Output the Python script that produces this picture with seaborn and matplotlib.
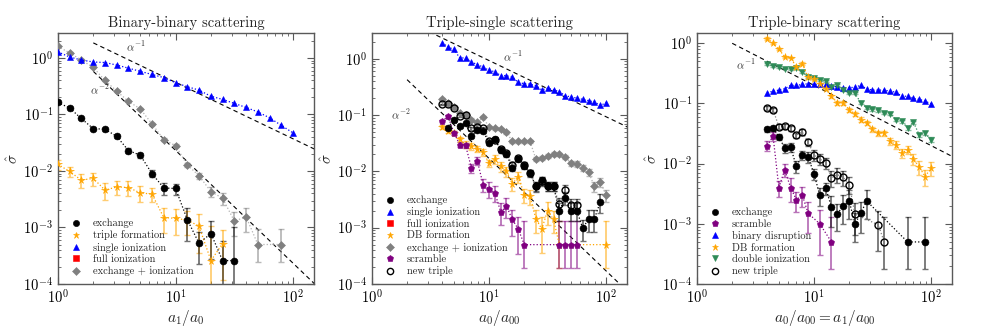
import numpy as np
import matplotlib
matplotlib.use("Agg")
import matplotlib.pyplot as plt
from matplotlib.lines import Line2D
import seaborn as sns

nan = np.nan

# ---- data -------------------------------------------------------------
# binary-binary: a1/a0
x_bb = [1.0, 1.26, 1.58, 2.0, 2.51, 3.16, 3.98, 5.01, 6.31, 7.94, 10.0,
        12.6, 15.8, 20.0, 25.1, 31.6, 39.8, 50.1, 63.1, 79.4, 100.0]
bb_exchange = [0.163, 0.13, 0.085, 0.056, 0.055, 0.041, 0.023, 0.019, 0.0090, 0.0050, 0.0049,
               0.00137, 0.00053, 0.00078, 0.00026, 0.00026, nan, nan, nan, nan, nan]
bb_exchange_err = [0.004, 0.004, 0.003, 0.003, 0.003, 0.002, 0.002, 0.002, 0.0013, 0.0012, 0.0011,
                   0.0008, 0.0003, 0.0005, 0.00032, 0.00075, nan, nan, nan, nan, nan]
bb_triple = [0.0131, 0.0098, 0.0069, 0.0074, 0.0046, 0.0052, 0.0051, 0.0041, 0.0039, 0.0015, 0.00145,
             0.00135, 0.00106, 0.00026, 0.00052, nan, nan, nan, nan, nan, nan]
bb_triple_err = [0.0027, 0.002, 0.0018, 0.002, 0.0015, 0.0015, 0.0015, 0.0013, 0.0011, 0.0007, 0.0007,
                 0.0006, 0.0007, 0.0008, 0.0004, nan, nan, nan, nan, nan, nan]
bb_single = [1.28, 1.04, 0.92, 0.85, 0.83, 0.75, 0.66, 0.58, 0.51, 0.45, 0.365,
             0.31, 0.27, 0.21, 0.185, 0.157, 0.133, 0.111, 0.087, 0.064, 0.047]
bb_exion = [1.6, 1.23, 0.92, 0.68, 0.40, 0.26, 0.17, 0.126, 0.068, 0.036, 0.028,
            0.0128, 0.0083, 0.0043, 0.0033, 0.0013, 0.00154, 0.0005, nan, 0.0005, nan]
bb_exion_err = [0.03, 0.03, 0.02, 0.02, 0.01, 0.008, 0.006, 0.005, 0.003, 0.002, 0.0015,
                0.001, 0.0011, 0.0009, 0.0008, 0.0006, 0.0007, 0.00045, nan, 0.00045, nan]
bb_exion_err_lo = [0.03, 0.03, 0.02, 0.02, 0.01, 0.008, 0.006, 0.005, 0.003, 0.002, 0.0015,
                   0.001, 0.0011, 0.0009, 0.0008, 0.0006, 0.0007, 0.00025, nan, 0.00025, nan]

# triple-single and triple-binary: a0/a00
x_t = [3.98, 4.47, 5.01, 5.62, 6.31, 7.08, 7.94, 8.91, 10.0, 11.2, 12.6, 14.1, 15.8, 17.8, 20.0,
       22.4, 25.1, 28.2, 31.6, 35.5, 39.8, 44.7, 50.1, 56.2, 63.1, 70.8, 79.4, 89.1, 100.0]

ts_single = [1.93, 1.61, 1.47, 1.04, 1.03, 0.87, 0.79, 0.71, 0.62, 0.59, 0.50, 0.50, 0.47, 0.38, 0.36,
             0.355, 0.33, 0.28, 0.30, 0.28, 0.26, 0.22, 0.21, 0.20, 0.19, 0.18, 0.17, 0.148, 0.165]
ts_exion = [0.194, 0.165, 0.14, 0.11, 0.10, 0.083, 0.074, 0.091, 0.061, 0.058, 0.057, 0.050, 0.034, 0.034, 0.034,
            0.034, 0.0166, 0.0174, 0.019, 0.0205, 0.020, 0.018, 0.014, 0.0135, 0.0115, 0.0096, 0.0054, 0.0064, 0.0038]
ts_exion_err = [0.008, 0.007, 0.006, 0.005, 0.005, 0.004, 0.004, 0.004, 0.003, 0.003, 0.003, 0.003, 0.002, 0.002, 0.002,
                0.002, 0.0015, 0.0015, 0.0015, 0.0015, 0.0015, 0.0015, 0.0015, 0.0015, 0.0015, 0.0013, 0.0011, 0.0012, 0.0009]
ts_exchange = [nan, 0.06, 0.083, 0.063, 0.071, 0.042, 0.055, 0.052, 0.032, 0.037, 0.024, 0.020, 0.0115, 0.0168, 0.0126,
               0.0093, 0.0054, 0.0069, 0.0054, 0.0054, 0.0020, 0.0034, 0.0020, 0.0020, 0.00097, 0.00145, 0.00145, 0.0029, nan]
ts_exchange_err = [nan, 0.003, 0.004, 0.003, 0.004, 0.003, 0.004, 0.004, 0.003, 0.003, 0.0025, 0.002, 0.0015, 0.0018, 0.0015,
                   0.0012, 0.0011, 0.0012, 0.001, 0.001, 0.0007, 0.0009, 0.0007, 0.0007, 0.0004, 0.0006, 0.0006, 0.0011, nan]
ts_newtriple = [0.154, 0.154, 0.135, 0.098, 0.10, 0.058, 0.062, 0.058, 0.035, 0.036, 0.025, 0.021, 0.013, 0.017, 0.013,
                0.0095, 0.0055, 0.0068, 0.0055, 0.0055, 0.0026, 0.0046, 0.0025, 0.0025, nan, nan, nan, nan, nan]
ts_newtriple_err = [0.006, 0.006, 0.005, 0.004, 0.004, 0.003, 0.004, 0.004, 0.003, 0.003, 0.0025, 0.002, 0.0015, 0.0018, 0.0015,
                    0.0012, 0.0011, 0.0012, 0.001, 0.001, 0.0007, 0.0011, 0.0007, 0.0007, nan, nan, nan, nan, nan]
ts_db = [0.061, 0.053, 0.049, 0.037, 0.030, 0.028, 0.025, 0.022, 0.014, 0.0166, 0.0123, 0.010, 0.006, 0.0081, 0.0038,
         0.0036, 0.00144, 0.00095, 0.002, 0.0014, 0.0005, nan, nan, nan, nan, nan, nan, nan, 0.0005]
ts_db_err = [0.005, 0.004, 0.004, 0.004, 0.004, 0.004, 0.003, 0.003, 0.002, 0.003, 0.0025, 0.002, 0.0015, 0.0018, 0.0011,
             0.0011, 0.00065, 0.0006, 0.0009, 0.0006, 0.0008, nan, nan, nan, nan, nan, nan, nan, 0.0008]
ts_db_err_lo = [0.005, 0.004, 0.004, 0.004, 0.004, 0.004, 0.003, 0.003, 0.002, 0.003, 0.0025, 0.002, 0.0015, 0.0018, 0.0011,
                0.0011, 0.00065, 0.0006, 0.0009, 0.0006, 0.00031, nan, nan, nan, nan, nan, nan, nan, 0.00031]
ts_scramble = [0.078, 0.095, 0.049, 0.030, 0.029, 0.0115, 0.0155, 0.0058, 0.0049, 0.0042, 0.0019, 0.0024, 0.0014, 0.00094, 0.0005,
               nan, nan, nan, nan, nan, 0.0005, 0.0005, 0.0005, 0.0005, nan, nan, nan, nan, nan]
ts_scramble_err = [0.004, 0.005, 0.004, 0.003, 0.003, 0.002, 0.0025, 0.0015, 0.0015, 0.0013, 0.0008, 0.0009, 0.0007, 0.0006, 0.0008,
                   nan, nan, nan, nan, nan, 0.0008, 0.0008, 0.0008, 0.0008, nan, nan, nan, nan, nan]
ts_scramble_err_lo = [0.004, 0.005, 0.004, 0.003, 0.003, 0.002, 0.0025, 0.0015, 0.0015, 0.0013, 0.0008, 0.0009, 0.0007, 0.0006, 0.00031,
                      nan, nan, nan, nan, nan, 0.00031, 0.00031, 0.00031, 0.00031, nan, nan, nan, nan, nan]

tb_disrupt = [0.151, 0.16, 0.167, 0.176, 0.20, 0.20, 0.207, 0.213, 0.207, 0.207, 0.207, 0.194, 0.19, 0.182, 0.182,
              0.187, 0.2, 0.175, 0.167, 0.167, 0.167, 0.16, 0.154, 0.132, 0.132, 0.121, 0.117, 0.109, 0.099]
tb_double = [0.447, 0.42, 0.41, 0.38, 0.37, 0.39, 0.33, 0.28, 0.27, 0.245, 0.235, 0.19, 0.2, 0.167, 0.147,
             0.147, 0.103, 0.085, 0.08, 0.077, 0.07, 0.068, 0.054, 0.051, 0.039, 0.049, 0.030, 0.032, 0.025]
tb_double_err = [0.015, 0.015, 0.015, 0.012, 0.012, 0.012, 0.01, 0.01, 0.01, 0.008, 0.008, 0.007, 0.007, 0.006, 0.006,
                 0.006, 0.005, 0.005, 0.004, 0.004, 0.004, 0.004, 0.003, 0.003, 0.003, 0.003, 0.0025, 0.0025, 0.0022]
tb_db = [1.2, 1.0, 0.79, 0.6, 0.58, 0.40, 0.46, 0.275, 0.26, 0.207, 0.175, 0.132, 0.103, 0.103, 0.079,
         0.066, 0.054, 0.048, 0.037, 0.032, 0.032, 0.0236, 0.0207, 0.015, 0.017, 0.012, 0.0088, 0.0061, 0.0085]
tb_db_err = [0.05, 0.04, 0.03, 0.02, 0.02, 0.02, 0.02, 0.015, 0.012, 0.01, 0.01, 0.008, 0.007, 0.007, 0.006,
             0.005, 0.005, 0.004, 0.004, 0.003, 0.003, 0.003, 0.003, 0.0025, 0.0025, 0.0025, 0.0022, 0.0018, 0.0022]
tb_exchange = [0.037, 0.039, 0.0278, 0.0182, 0.0187, 0.009, 0.014, 0.0129, 0.0068, 0.003, 0.0039, 0.0019, 0.00145, 0.002, 0.0024,
               0.00099, 0.0015, 0.0024, nan, nan, nan, nan, nan, nan, 0.0005, nan, nan, 0.0005, nan]
tb_exchange_err = [0.004, 0.004, 0.003, 0.003, 0.003, 0.002, 0.0025, 0.0025, 0.0015, 0.001, 0.0009, 0.001, 0.0007, 0.001, 0.0012,
                   0.0005, 0.0008, 0.0012, nan, nan, nan, nan, nan, nan, 0.0008, nan, nan, 0.0008, nan]
tb_exchange_err_lo = [0.004, 0.004, 0.003, 0.003, 0.003, 0.002, 0.0025, 0.0025, 0.0015, 0.001, 0.0009, 0.001, 0.0007, 0.001, 0.0012,
                      0.0005, 0.0008, 0.0012, nan, nan, nan, nan, nan, nan, 0.00032, nan, nan, 0.00032, nan]
tb_scramble = [0.020, 0.0286, 0.004, 0.0079, 0.004, 0.0025, 0.003, 0.0015, nan, 0.001, nan, 0.0005, nan, nan, nan,
               nan, nan, nan, nan, nan, nan, nan, nan, nan, nan, nan, nan, nan, nan]
tb_scramble_err = [0.004, 0.005, 0.0012, 0.002, 0.0017, 0.0009, 0.0011, 0.0008, nan, 0.0007, nan, 0.0008, nan, nan, nan,
                   nan, nan, nan, nan, nan, nan, nan, nan, nan, nan, nan, nan, nan, nan]
tb_scramble_err_lo = [0.004, 0.005, 0.0012, 0.002, 0.0017, 0.0009, 0.0011, 0.0008, nan, 0.0007, nan, 0.00032, nan, nan, nan,
                      nan, nan, nan, nan, nan, nan, nan, nan, nan, nan, nan, nan, nan, nan]
tb_newtriple = [0.085, 0.079, 0.041, 0.042, 0.039, 0.0297, 0.0337, 0.0227, 0.014, 0.012, 0.0103, 0.0058, 0.0066, 0.0059, 0.0045,
                0.00145, nan, nan, nan, 0.00096, 0.0005, nan, nan, nan, nan, nan, nan, nan, nan]
tb_newtriple_err = [0.006, 0.006, 0.004, 0.004, 0.004, 0.003, 0.004, 0.003, 0.003, 0.0025, 0.0022, 0.0017, 0.0018, 0.0017, 0.0014,
                    0.0008, nan, nan, nan, 0.0007, 0.0008, nan, nan, nan, nan, nan, nan, nan, nan]
tb_newtriple_err_lo = [0.006, 0.006, 0.004, 0.004, 0.004, 0.003, 0.004, 0.003, 0.003, 0.0025, 0.0022, 0.0017, 0.0018, 0.0017, 0.0014,
                       0.0008, nan, nan, nan, 0.0006, 0.00032, nan, nan, nan, nan, nan, nan, nan, nan]

# power-law guide lines: (prefactor, exponent, x start, label x, label y)
guides_bb = [(3.7, -1, 2.0, 4.6, 1.6), (2.32, -2, 2.0, 2.25, 0.28)]
guides_ts = [(9.3, -1, 3.1, 16.0, 1.1), (1.7, -2, 2.0, 1.75, 0.105)]
guides_tb = [(2.0, -1, 2.0, 2.6, 0.45)]

# ---- style ------------------------------------------------------------
sns.set_style("ticks")
plt.rcParams.update({
    "font.family": "serif",
    "font.serif": ["cmr10", "DejaVu Serif"],
    "mathtext.fontset": "cm",
    "axes.formatter.use_mathtext": True,
    "axes.unicode_minus": False,
    "axes.edgecolor": "0.35",
    "axes.linewidth": 1.0,
    "xtick.direction": "in",
    "ytick.direction": "in",
    "xtick.top": True,
    "ytick.right": True,
    "xtick.color": "0.35",
    "ytick.color": "0.35",
    "xtick.labelcolor": "black",
    "ytick.labelcolor": "black",
    "xtick.labelsize": 10.5,
    "ytick.labelsize": 10.5,
})

C = {"black": "black", "orange": "orange", "blue": "#0000ff", "red": "red",
     "gray": "gray", "purple": "purple", "green": "seagreen"}


def series(ax, x, y, color, marker, err=None, ms=5, open_marker=False, lc=None, err_lo=None):
    x = np.asarray(x, float)
    y = np.asarray(y, float)
    m = ~np.isnan(y)
    if err is not None:
        hi = np.asarray(err, float)[m]
        lo = np.asarray(err_lo if err_lo is not None else err, float)[m]
        ax.errorbar(x[m], y[m], yerr=[lo, hi], fmt="none", ecolor=color, alpha=0.55,
                    elinewidth=1.3, capsize=2, capthick=1, zorder=2)
    sns.lineplot(x=x[m], y=y[m], ax=ax, color=lc or color, linestyle=":", lw=0.9,
                 marker=marker, markersize=ms, markeredgewidth=1 if open_marker else 0.4,
                 markeredgecolor=color,
                 markerfacecolor="none" if open_marker else color,
                 estimator=None, sort=False, zorder=3)


def guides(ax, gl):
    for c, p, x0, lx, ly in gl:
        xx = np.array([x0, 160.0])
        ax.plot(xx, c * xx ** p, ls=(0, (4, 3)), color="black", lw=0.8, zorder=1)
        ax.text(lx, ly, r"$\alpha^{%d}$" % p, fontsize=8, ha="center", va="center",
                color="0.2", zorder=5)


def finish(ax, title, xlabel, ytop, handles):
    ax.set_xscale("log")
    ax.set_yscale("log")
    ax.set_xlim(1, 150)
    ax.set_ylim(1e-4, ytop)
    ax.set_title(title, fontsize=10.5, pad=4)
    ax.set_xlabel(xlabel, fontsize=11, labelpad=1)
    ax.set_ylabel(r"$\hat{\sigma}$", fontsize=11, labelpad=2)
    ax.tick_params(which="major", length=5, width=0.8)
    ax.tick_params(which="minor", length=2.5, width=0.6)
    ax.legend(handles=[Line2D([], [], ls="none", marker=m, color=c, markersize=ms,
                              markerfacecolor="none" if o else c, markeredgewidth=1 if o else 0.4,
                              label=l) for l, c, m, ms, o in handles],
              loc="lower left", bbox_to_anchor=(0.02, 0.0), frameon=False, fontsize=7.5,
              handlelength=1.0, handletextpad=1.1, labelspacing=0.2, borderaxespad=0.35)


fig = plt.figure(figsize=(9.81, 3.27), dpi=100)
ax1 = fig.add_axes([0.059, 0.1315, 0.261, 0.7685])
ax2 = fig.add_axes([0.379, 0.1315, 0.260, 0.7685])
ax3 = fig.add_axes([0.7105, 0.1315, 0.2595, 0.7685])
for ax in (ax1, ax2, ax3):
    ax.set_xscale("log")
    ax.set_yscale("log")

# panel 1
guides(ax1, guides_bb)
series(ax1, x_bb, bb_exion, C["gray"], "D", bb_exion_err, ms=4.5, lc="0.7", err_lo=bb_exion_err_lo)
series(ax1, x_bb, bb_single, C["blue"], "^", ms=5)
series(ax1, x_bb, bb_triple, C["orange"], "*", bb_triple_err, ms=5.5)
series(ax1, x_bb, bb_exchange, C["black"], "o", bb_exchange_err, ms=5)
finish(ax1, "Binary-binary scattering", r"$a_1/a_0$", 2.8, [
    ("exchange", C["black"], "o", 4.5, False),
    ("triple formation", C["orange"], "*", 5, False),
    ("single ionization", C["blue"], "^", 4.5, False),
    ("full ionization", C["red"], "s", 4.5, False),
    ("exchange + ionization", C["gray"], "D", 4, False)])

# panel 2
guides(ax2, guides_ts)
series(ax2, x_t, ts_single, C["blue"], "^", ms=5)
series(ax2, x_t, ts_exion, C["gray"], "D", ts_exion_err, ms=4.5, lc="0.7")
series(ax2, x_t, ts_newtriple, C["black"], "o", ts_newtriple_err, ms=5, open_marker=True, lc="0.5")
series(ax2, x_t, ts_db, C["orange"], "*", ts_db_err, ms=5.5, err_lo=ts_db_err_lo)
series(ax2, x_t, ts_scramble, C["purple"], "p", ts_scramble_err, ms=5, err_lo=ts_scramble_err_lo)
series(ax2, x_t, ts_exchange, C["black"], "o", ts_exchange_err, ms=5)
finish(ax2, "Triple-single scattering", r"$a_0/a_{00}$", 2.9, [
    ("exchange", C["black"], "o", 4.5, False),
    ("single ionization", C["blue"], "^", 4.5, False),
    ("full ionization", C["red"], "s", 4.5, False),
    ("DB formation", C["orange"], "*", 5, False),
    ("exchange + ionization", C["gray"], "D", 4, False),
    ("scramble", C["purple"], "p", 4.5, False),
    ("new triple", C["black"], "o", 4.5, True)])

# panel 3
guides(ax3, guides_tb)
series(ax3, x_t, tb_disrupt, C["blue"], "^", ms=5)
series(ax3, x_t, tb_double, C["green"], "v", tb_double_err, ms=5)
series(ax3, x_t, tb_db, C["orange"], "*", tb_db_err, ms=5.5)
series(ax3, x_t, tb_newtriple, C["black"], "o", tb_newtriple_err, ms=5, open_marker=True, lc="0.5",
       err_lo=tb_newtriple_err_lo)
series(ax3, x_t, tb_scramble, C["purple"], "p", tb_scramble_err, ms=5, err_lo=tb_scramble_err_lo)
series(ax3, x_t, tb_exchange, C["black"], "o", tb_exchange_err, ms=5, err_lo=tb_exchange_err_lo)
finish(ax3, "Triple-binary scattering", r"$a_0/a_{00} = a_1/a_{00}$", 1.5, [
    ("exchange", C["black"], "o", 4.5, False),
    ("scramble", C["purple"], "p", 4.5, False),
    ("binary disruption", C["blue"], "^", 4.5, False),
    ("DB formation", C["orange"], "*", 5, False),
    ("double ionization", C["green"], "v", 4.5, False),
    ("new triple", C["black"], "o", 4.5, True)])

fig.savefig("out.png", dpi=100)
